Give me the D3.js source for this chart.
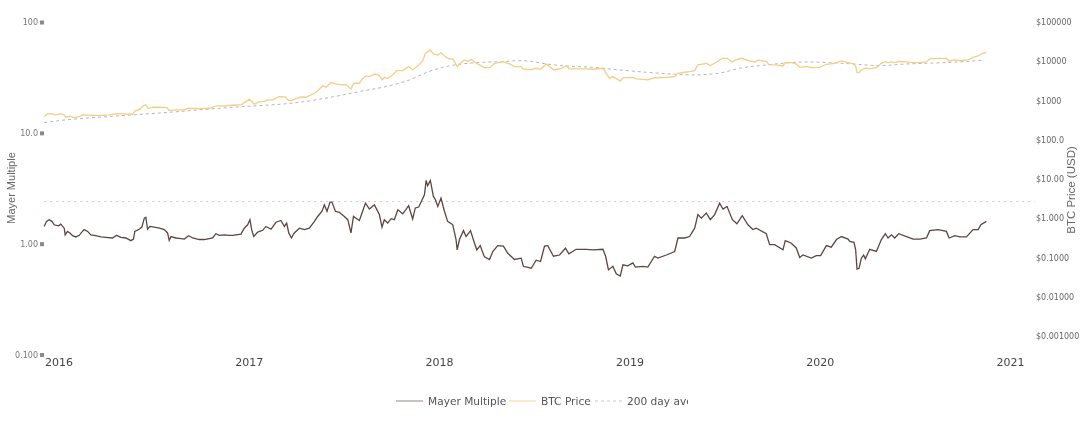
<!DOCTYPE html>
<html>
<head>
<meta charset="utf-8">
<script src="https://cdn.jsdelivr.net/npm/d3@7"></script>
<style>
  html, body { margin: 0; background: #fff; }
  svg { display: block; filter: blur(0.3px); }
</style>
</head>
<body>
<svg id="chart" width="1080" height="424"></svg>
<script>
// [decimal year, value]
const mayer = [
  [2015.925,1.43],[2015.937,1.59],[2015.951,1.645],[2015.965,1.59],[2015.977,1.48],[2016.000,1.45],[2016.012,1.50],[2016.030,1.38],
  [2016.035,1.20],[2016.047,1.29],[2016.060,1.25],[2016.074,1.18],[2016.091,1.15],[2016.109,1.19],[2016.126,1.29],[2016.135,1.34],
  [2016.153,1.29],[2016.170,1.20],[2016.196,1.18],[2016.223,1.15],[2016.249,1.14],[2016.284,1.125],[2016.305,1.19],[2016.328,1.14],
  [2016.354,1.125],[2016.380,1.065],[2016.394,1.10],[2016.401,1.29],[2016.424,1.35],[2016.438,1.41],[2016.451,1.70],[2016.459,1.73],
  [2016.468,1.35],[2016.480,1.43],[2016.503,1.41],[2016.530,1.38],[2016.556,1.34],[2016.573,1.25],[2016.582,1.07],[2016.591,1.16],
  [2016.617,1.125],[2016.643,1.11],[2016.661,1.10],[2016.684,1.18],[2016.705,1.125],[2016.740,1.09],[2016.766,1.09],[2016.792,1.11],
  [2016.810,1.125],[2016.827,1.23],[2016.845,1.19],[2016.871,1.20],[2016.898,1.19],[2016.915,1.19],[2016.959,1.22],[2016.976,1.38],
  [2016.994,1.48],[2017.006,1.645],[2017.015,1.34],[2017.026,1.16],[2017.047,1.27],[2017.073,1.32],[2017.090,1.43],[2017.117,1.35],
  [2017.143,1.56],[2017.169,1.62],[2017.187,1.43],[2017.199,1.535],[2017.210,1.25],[2017.224,1.125],[2017.239,1.25],[2017.266,1.38],
  [2017.292,1.34],[2017.318,1.38],[2017.345,1.59],[2017.362,1.76],[2017.385,1.96],[2017.397,2.24],[2017.411,1.96],[2017.427,2.37],
  [2017.437,2.37],[2017.455,1.96],[2017.476,1.92],[2017.502,1.76],[2017.520,1.645],[2017.537,1.25],[2017.550,1.76],[2017.581,1.62],
  [2017.595,1.89],[2017.613,2.32],[2017.634,2.05],[2017.660,2.24],[2017.686,1.83],[2017.700,1.41],[2017.712,1.645],[2017.730,1.535],
  [2017.748,1.68],[2017.765,1.645],[2017.783,2.02],[2017.809,1.86],[2017.840,2.20],[2017.861,1.67],[2017.875,2.10],[2017.893,2.14],
  [2017.923,2.76],[2017.932,3.72],[2017.940,3.33],[2017.954,3.72],[2017.970,2.67],[2017.981,2.49],[2017.993,2.17],[2018.010,2.58],
  [2018.028,1.96],[2018.045,1.59],[2018.072,1.48],[2018.089,1.09],[2018.095,0.88],[2018.107,1.09],[2018.128,1.31],[2018.142,1.16],
  [2018.165,1.31],[2018.186,1.01],[2018.198,0.88],[2018.216,0.96],[2018.238,0.76],[2018.265,0.72],[2018.282,0.85],[2018.308,0.96],
  [2018.338,0.95],[2018.361,0.82],[2018.396,0.72],[2018.431,0.74],[2018.443,0.625],[2018.484,0.60],[2018.510,0.71],[2018.533,0.69],
  [2018.554,0.95],[2018.571,0.96],[2018.601,0.77],[2018.633,0.79],[2018.664,0.91],[2018.682,0.81],[2018.720,0.89],[2018.773,0.89],
  [2018.808,0.88],[2018.861,0.89],[2018.875,0.77],[2018.890,0.58],[2018.913,0.625],[2018.931,0.535],[2018.952,0.51],[2018.966,0.645],
  [2018.992,0.63],[2019.018,0.67],[2019.032,0.615],[2019.071,0.625],[2019.097,0.615],[2019.132,0.77],[2019.150,0.74],[2019.194,0.79],
  [2019.238,0.85],[2019.255,1.125],[2019.290,1.125],[2019.316,1.16],[2019.343,1.38],[2019.360,1.83],[2019.378,1.70],[2019.404,1.89],
  [2019.425,1.645],[2019.448,1.83],[2019.474,2.32],[2019.492,2.05],[2019.513,2.17],[2019.541,1.645],[2019.565,1.51],[2019.593,1.79],
  [2019.623,1.48],[2019.649,1.34],[2019.667,1.38],[2019.719,1.23],[2019.737,0.98],[2019.763,0.98],[2019.807,0.88],[2019.819,1.065],
  [2019.851,1.01],[2019.877,0.915],[2019.895,0.75],[2019.912,0.79],[2019.956,0.74],[2019.982,0.78],[2020.005,0.78],[2020.035,0.96],
  [2020.061,0.93],[2020.088,1.09],[2020.114,1.16],[2020.149,1.10],[2020.158,1.05],[2020.180,1.03],[2020.189,0.88],[2020.196,0.59],
  [2020.207,0.60],[2020.219,0.74],[2020.231,0.79],[2020.240,0.73],[2020.263,0.89],[2020.298,0.85],[2020.324,1.09],[2020.345,1.23],
  [2020.359,1.125],[2020.377,1.20],[2020.394,1.125],[2020.415,1.23],[2020.456,1.16],[2020.491,1.10],[2020.526,1.10],[2020.561,1.125],
  [2020.578,1.31],[2020.622,1.34],[2020.666,1.29],[2020.680,1.125],[2020.710,1.18],[2020.736,1.15],[2020.771,1.15],[2020.806,1.34],
  [2020.833,1.34],[2020.847,1.48],[2020.876,1.59]
];

const price = [
  [2015.925,390],[2015.942,456],[2015.960,465],[2015.982,430],[2016.012,456],[2016.030,430],[2016.039,375],[2016.060,397],
  [2016.082,368],[2016.105,382],[2016.130,430],[2016.161,422],[2016.214,414],[2016.266,430],[2016.310,465],[2016.345,456],
  [2016.389,447],[2016.403,544],[2016.428,600],[2016.445,728],[2016.459,772],[2016.472,622],[2016.494,673],[2016.530,673],
  [2016.570,660],[2016.582,554],[2016.617,576],[2016.661,576],[2016.684,634],[2016.740,622],[2016.792,634],[2016.831,728],
  [2016.871,728],[2016.915,757],[2016.964,787],[2016.976,885],[2017.003,1076],[2017.015,939],[2017.029,802],[2017.055,939],
  [2017.082,939],[2017.099,1035],[2017.125,1035],[2017.160,1258],[2017.192,1234],[2017.204,1035],[2017.222,976],[2017.248,1120],
  [2017.274,1234],[2017.301,1210],[2017.345,1530],[2017.367,1860],[2017.388,2400],[2017.406,2175],[2017.432,2860],[2017.458,2640],
  [2017.485,2490],[2017.511,2540],[2017.537,1970],[2017.551,2748],[2017.581,2750],[2017.595,3470],[2017.616,4220],[2017.634,4060],
  [2017.663,4750],[2017.686,4300],[2017.700,3340],[2017.712,3900],[2017.730,3680],[2017.756,4480],[2017.777,5770],[2017.809,5770],
  [2017.840,7300],[2017.861,6000],[2017.893,8050],[2017.914,10370],[2017.928,15900],[2017.953,19360],[2017.970,15300],[2017.993,14400],
  [2018.010,16500],[2018.033,13100],[2018.054,11430],[2018.072,11430],[2018.095,7300],[2018.107,8530],[2018.133,10790],[2018.151,9800],
  [2018.168,11200],[2018.195,8870],[2018.212,8050],[2018.238,6880],[2018.268,6880],[2018.291,8870],[2018.335,9800],[2018.370,8530],
  [2018.396,7300],[2018.431,7300],[2018.440,6370],[2018.479,6000],[2018.510,6620],[2018.533,6250],[2018.563,8530],[2018.603,6000],
  [2018.642,6620],[2018.671,7780],[2018.682,6370],[2018.720,6370],[2018.773,6370],[2018.808,6250],[2018.861,6620],[2018.878,4940],
  [2018.896,3680],[2018.913,4060],[2018.952,3130],[2018.966,3830],[2018.992,3830],[2019.018,3900],[2019.036,3550],[2019.071,3470],
  [2019.097,3340],[2019.132,3830],[2019.150,3750],[2019.194,3900],[2019.238,4060],[2019.255,4940],[2019.290,5250],[2019.316,5450],
  [2019.343,5770],[2019.360,8050],[2019.378,8380],[2019.404,8870],[2019.425,7780],[2019.448,8870],[2019.474,10790],[2019.488,11900],
  [2019.513,11900],[2019.541,9600],[2019.558,10800],[2019.593,11900],[2019.623,10400],[2019.658,9600],[2019.676,10600],[2019.719,9980],
  [2019.733,8210],[2019.772,8050],[2019.807,7580],[2019.819,9230],[2019.851,9230],[2019.877,8530],[2019.895,7020],[2019.930,7300],
  [2019.956,6880],[2020.000,7020],[2020.035,8380],[2020.079,8870],[2020.114,10190],[2020.149,9230],[2020.180,8530],[2020.189,7300],
  [2020.196,5140],[2020.207,5140],[2020.219,6010],[2020.240,6630],[2020.263,6500],[2020.298,6880],[2020.324,8870],[2020.345,9780],
  [2020.359,9230],[2020.377,9600],[2020.394,9230],[2020.415,9980],[2020.456,9600],[2020.491,9230],[2020.526,9230],[2020.561,9780],
  [2020.578,11450],[2020.622,11900],[2020.666,11900],[2020.680,10190],[2020.710,10800],[2020.736,10400],[2020.780,10800],[2020.806,12600],
  [2020.833,13640],[2020.850,15330],[2020.876,16900]
];

const dma = [
  [2015.925,274],[2016.039,321],[2016.214,375],[2016.389,430],[2016.565,493],[2016.740,576],[2016.915,674],[2017.090,758],
  [2017.222,851],[2017.371,1076],[2017.581,1687],[2017.756,2490],[2017.844,3340],[2017.932,5130],[2018.019,7010],[2018.107,8360],
  [2018.230,9400],[2018.335,9780],[2018.422,10370],[2018.493,9780],[2018.563,8530],[2018.668,7590],[2018.808,7010],[2018.948,6000],
  [2019.089,5240],[2019.246,4660],[2019.334,4480],[2019.474,5000],[2019.579,6620],[2019.719,8050],[2019.825,9060],[2019.930,9600],
  [2020.052,9230],[2020.175,8530],[2020.315,7740],[2020.456,8530],[2020.561,8870],[2020.701,9420],[2020.859,10590]
];

// Mayer Multiple sell level, runs past the end of the data
const level = [[2015.925, 2.4], [2021.13, 2.4]];

const svg = d3.select('#chart');

const x = d3.scaleLinear().domain([2016, 2021]).range([58.5, 1010]);
const yLeft = d3.scaleLog().domain([0.1, 100]).range([354.5, 22]);
const yRight = d3.scaleLog().domain([0.001, 100000]).range([336, 22]);

const lineLeft = d3.line().x(d => x(d[0])).y(d => yLeft(d[1]));
const lineRight = d3.line().x(d => x(d[0])).y(d => yRight(d[1]));

// Axes
const leftLabels = { 100: '100', 10: '10.0', 1: '1.00', 0.1: '0.100' };
const rightLabels = ['$0.001000', '$0.01000', '$0.1000', '$1.000', '$10.00', '$100.0', '$1000', '$10000', '$100000'];

const leftAxis = svg.append('g')
  .attr('transform', 'translate(44,0)')
  .call(d3.axisLeft(yLeft).tickValues([100, 10, 1, 0.1]).tickSize(4).tickPadding(2).tickFormat(d => leftLabels[d]));

const rightAxis = svg.append('g')
  .attr('transform', 'translate(1036,0)')
  .call(d3.axisRight(yRight).tickValues(d3.range(-3, 6).map(e => Math.pow(10, e))).tickSize(0).tickPadding(0)
    .tickFormat((d, i) => rightLabels[i]));

const bottomAxis = svg.append('g')
  .attr('transform', 'translate(0,358)')
  .call(d3.axisBottom(x).tickValues(d3.range(2016, 2022)).tickSize(0).tickPadding(0).tickFormat(d3.format('d')));

[leftAxis, rightAxis, bottomAxis].forEach(a => a.select('.domain').remove());

leftAxis.selectAll('line').attr('stroke', '#8a8a8a').attr('stroke-width', 4);
leftAxis.selectAll('text').attr('font-family', 'DejaVu Sans').attr('font-size', 8).attr('fill', '#777');
rightAxis.selectAll('text').attr('font-family', 'DejaVu Sans').attr('font-size', 8).attr('fill', '#666');
bottomAxis.selectAll('text').attr('font-family', 'DejaVu Sans').attr('font-size', 11).attr('fill', '#444');

// Axis titles
svg.append('text')
  .attr('transform', 'translate(15,188) rotate(-90)')
  .attr('text-anchor', 'middle')
  .attr('font-family', 'Liberation Sans').attr('font-size', 11).attr('fill', '#666')
  .text('Mayer Multiple');

svg.append('text')
  .attr('transform', 'translate(1075,190) rotate(-90)')
  .attr('text-anchor', 'middle')
  .attr('font-family', 'Liberation Sans').attr('font-size', 11.5).attr('fill', '#666')
  .text('BTC Price (USD)');

// Series
const addPath = (d, gen, color, width, dash, opacity) => svg.append('path')
  .datum(d)
  .attr('fill', 'none')
  .attr('stroke', color)
  .attr('stroke-width', width)
  .attr('stroke-dasharray', dash)
  .attr('stroke-opacity', opacity)
  .attr('d', gen);

addPath(level, lineLeft, '#cccccc', 1, '2 4', 1);
addPath(dma, lineRight.curve(d3.curveMonotoneX), '#b5b5b5', 1, '3 3', 1);
lineRight.curve(d3.curveLinear);
addPath(price, lineRight, '#f6cd85', 1.3, null, 1);
addPath(mayer, lineLeft, '#5c4642', 1.3, null, 1);

// Legend, clipped on the right like the original
svg.append('clipPath').attr('id', 'legend-clip')
  .append('rect').attr('x', 390).attr('y', 390).attr('width', 298).attr('height', 24);

const legend = svg.append('g').attr('clip-path', 'url(#legend-clip)');
const items = [
  { name: 'Mayer Multiple', x: 396, color: '#a89a97', dash: null },
  { name: 'BTC Price', x: 509, color: '#f8dca8', dash: null },
  { name: '200 day average', x: 595, color: '#c8c8c8', dash: '3 3' }
];
items.forEach(it => {
  legend.append('line')
    .attr('x1', it.x).attr('x2', it.x + 27).attr('y1', 401).attr('y2', 401)
    .attr('stroke', it.color).attr('stroke-width', 1.2)
    .attr('stroke-dasharray', it.dash);
  legend.append('text')
    .attr('x', it.x + 32).attr('y', 405)
    .attr('font-family', 'DejaVu Sans').attr('font-size', 10.6).attr('fill', '#555')
    .text(it.name);
});
</script>
</body>
</html>
